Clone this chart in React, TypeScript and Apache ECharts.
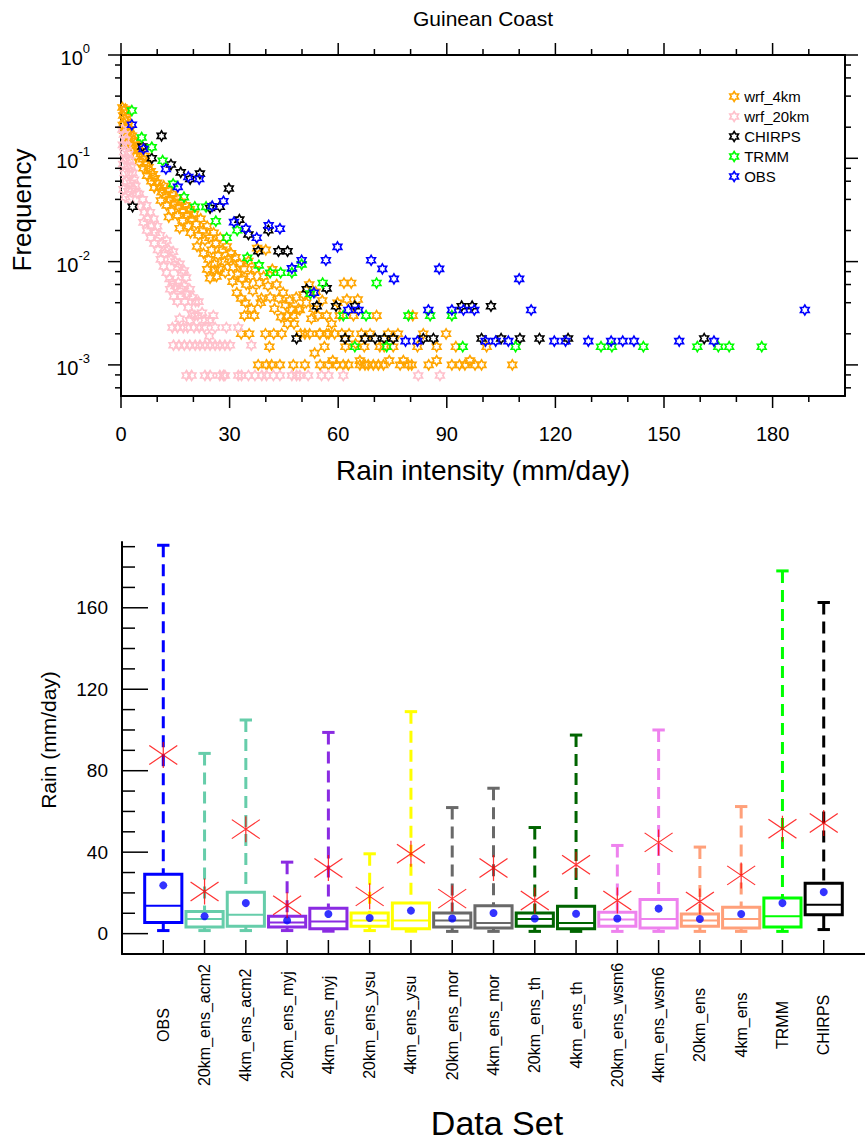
import React, { useEffect, useRef } from 'react';
import * as echarts from 'echarts';

const FONT = '"Liberation Sans", Arial, Helvetica, sans-serif';

// ---------------- Top panel: frequency of rain intensity ----------------
const seriesNames = ['wrf_4km', 'wrf_20km', 'CHIRPS', 'TRMM', 'OBS'];
const seriesColors = ['#FFA500', '#FFC0CB', '#000000', '#00FF00', '#0000FF'];

const wrf4km: number[][] = [
  [0.4,0.31],[0.8,0.29],[1.2,0.3],[0.6,0.26],[1.0,0.24],[1.6,0.25],[0.5,0.21],[1.3,0.2],[2.0,0.21],[0.9,0.185],
  [1.8,0.18],[2.5,0.19],[3.0,0.165],[2.2,0.155],[3.5,0.15],[1.5,0.14],[2.8,0.135],[4.0,0.14],[3.3,0.125],[4.5,0.12],
  [5.0,0.13],[4.2,0.105],[5.5,0.11],[6.0,0.098],[5.0,0.092],[6.6,0.105],[7.0,0.088],[6.2,0.08],[7.6,0.082],[8.2,0.075],
  [7.2,0.068],[8.8,0.07],[9.4,0.064],[8.4,0.06],[10.0,0.058],[9.2,0.052],
  [10.6,0.052],[11.2,0.047],[11.8,0.054],[12.4,0.044],[13.0,0.049],[13.6,0.04],[14.2,0.045],[14.8,0.037],[15.4,0.041],[16.0,0.034],
  [16.6,0.038],[17.2,0.031],[17.8,0.035],[18.4,0.028],[19.0,0.032],[19.6,0.026],[11.0,0.039],[12.6,0.035],[14.0,0.031],[15.6,0.028],
  [17.0,0.025],[18.6,0.022],[13.2,0.027],[16.2,0.021],[19.2,0.019],
  [20.2,0.029],[20.8,0.023],[21.4,0.018],[22.0,0.026],[22.6,0.02],[23.2,0.016],[23.8,0.022],[24.4,0.017],[25.0,0.013],[25.6,0.019],
  [26.2,0.015],[26.8,0.0115],[27.4,0.017],[28.0,0.013],[28.6,0.01],[29.2,0.014],[29.8,0.0105],[21.0,0.014],[22.8,0.012],[24.2,0.0105],
  [25.8,0.0095],[27.2,0.0085],[28.8,0.0078],[23.8,0.0084],[26.4,0.0072],[24.6,0.0069],[25.9,0.0083],
  [30.4,0.012],[31.0,0.0088],[31.6,0.011],[32.2,0.0075],[32.8,0.0095],[33.4,0.0068],[34.0,0.0085],[34.6,0.006],[35.2,0.0101],[35.8,0.0072],
  [36.4,0.0052],[37.0,0.0084],[37.6,0.0135],[38.2,0.0062],[38.8,0.0044],[39.4,0.0072],[40.0,0.013],[30.8,0.0064],[32.0,0.005],[33.2,0.0044],
  [34.4,0.004],[36.0,0.0035],[36.8,0.003],[38.6,0.004],[33.2,0.002],[35.4,0.002],[34.1,0.003],[39.9,0.002],[37.9,0.001],[40.2,0.001],
  [40.6,0.0058],[41.2,0.0045],[41.8,0.0084],[42.4,0.0035],[43.0,0.006],[43.6,0.0044],[44.2,0.0029],[44.8,0.005],[45.4,0.0038],[46.0,0.0025],
  [46.6,0.0042],[47.2,0.0034],[47.8,0.0025],[48.4,0.0045],[49.0,0.0035],[49.6,0.002],[42.2,0.002],[44.4,0.002],[45.8,0.003],[47.6,0.003],
  [41.6,0.001],[43.9,0.001],[47.6,0.001],[41.0,0.0015],[49.4,0.0034],
  [50.4,0.0048],[51.2,0.004],[52.0,0.006],[52.6,0.0028],[53.2,0.0035],[53.8,0.0051],[54.4,0.003],[55.0,0.002],[55.6,0.0042],[56.2,0.0015],
  [56.8,0.003],[57.4,0.002],[58.2,0.0025],[59.0,0.002],[59.8,0.004],[50.8,0.002],[52.1,0.002],[54.8,0.002],[56.8,0.002],[50.8,0.001],
  [55.0,0.001],[57.3,0.001],[59.6,0.001],[53.5,0.0013],[58.5,0.0011],
  [60.4,0.003],[61.0,0.002],[61.6,0.0062],[62.4,0.0043],[63.0,0.002],[63.6,0.0062],[64.2,0.003],[64.8,0.0016],[65.4,0.0043],[66.4,0.002],
  [67.2,0.0015],[68.8,0.002],[70.6,0.003],[61.4,0.001],[62.8,0.001],[66.0,0.001],[68.3,0.001],[69.7,0.001],[66.0,0.0011],[62.0,0.0015],
  [67.4,0.001],
  [71.1,0.001],[72.5,0.001],[73.8,0.002],[74.1,0.0011],[75.2,0.0015],[76.5,0.002],[77.1,0.001],[78.0,0.0011],[79.4,0.001],[80.3,0.001],
  [80.6,0.003],[81.9,0.0015],[83.5,0.002],[85.0,0.001],[87.2,0.0015],[87.2,0.0011],[89.8,0.002],[91.4,0.001],[92.5,0.0015],[93.5,0.001],
  [95.0,0.001],[96.4,0.0011],[97.8,0.001],[99.6,0.001],[101.0,0.0015],[108.1,0.001],[71.5,0.0015],[72.7,0.0015],
];

const wrf20km: number[][] = [
  [0.4,0.19],[0.8,0.17],[1.2,0.15],[0.5,0.135],[1.6,0.13],[0.9,0.115],[2.0,0.11],[1.3,0.1],[2.4,0.095],[0.6,0.088],
  [1.8,0.085],[2.8,0.082],[1.0,0.072],[2.2,0.07],[3.2,0.072],[1.5,0.06],[2.6,0.058],[3.6,0.062],[0.7,0.05],[2.0,0.048],
  [3.0,0.05],[4.0,0.054],[1.2,0.042],[4.4,0.046],[2.4,0.04],
  [5.0,0.045],[5.5,0.034],[6.0,0.04],[6.5,0.03],[7.0,0.035],[7.5,0.026],[8.0,0.03],[8.5,0.022],[9.0,0.026],[9.5,0.019],
  [10.0,0.022],[6.2,0.024],[7.2,0.02],[8.2,0.017],[9.2,0.015],[10.2,0.013],[10.8,0.018],[11.4,0.015],[12.0,0.012],[12.6,0.016],
  [13.2,0.013],[13.8,0.0105],[14.4,0.0125],[15.0,0.01],[15.6,0.0088],[16.2,0.0095],[16.8,0.0078],[17.4,0.0082],[18.0,0.007],[11.0,0.0105],
  [11.8,0.009],[12.6,0.0078],[13.4,0.0068],[14.2,0.0063],[15.0,0.0058],[15.8,0.0063],[16.6,0.0054],[17.4,0.0058],[18.2,0.0049],[19.0,0.0054],
  [19.8,0.0045],[20.6,0.0041],[21.4,0.0041],[13.6,0.0054],[14.6,0.0046],[15.6,0.0041],[16.6,0.0046],[17.6,0.0041],[18.6,0.0036],[19.6,0.0031],
  [20.4,0.003],[21.2,0.003],[22.4,0.0032],[23.2,0.0027],[24.4,0.0027],[25.5,0.003],[14.2,0.0023],[15.6,0.0023],[16.2,0.0028],[17.2,0.0023],
  [18.4,0.0023],[19.0,0.0027],[20.2,0.0023],[21.6,0.0023],[23.0,0.0023],[24.4,0.0019],[26.0,0.0023],[29.1,0.0023],[32.4,0.0023],
  [14.5,0.00155],[16.0,0.00155],[17.5,0.00155],[19.0,0.00155],[20.5,0.00155],[21.8,0.00155],[23.2,0.00155],[24.6,0.00155],[26.0,0.00155],[27.3,0.00155],
  [28.7,0.00155],[30.1,0.00155],[36.0,0.00155],
  [18.1,0.00079],[19.5,0.00079],[23.2,0.00079],[24.6,0.00079],[27.3,0.00079],[28.3,0.00079],[28.7,0.00079],[32.4,0.00079],[33.3,0.00079],[35.2,0.00079],
  [37.0,0.00079],[38.9,0.00079],[40.2,0.00079],[42.1,0.00079],[43.9,0.00079],[47.2,0.00079],[48.5,0.00079],[49.4,0.00079],[51.7,0.00079],[55.4,0.00079],
  [57.3,0.00079],[61.4,0.00079],[82.1,0.00079],[88.1,0.00079],
];

const chirps: number[][] = [
  [3.2,0.034],[5.9,0.13],[8.5,0.1],[11.2,0.165],[13.8,0.087],[16.5,0.073],[19.1,0.063],[21.8,0.071],[24.6,0.033],[27.3,0.034],
  [29.8,0.051],[32.7,0.0255],[35.2,0.0183],[37.9,0.0126],[40.7,0.0201],[43.5,0.0126],[46.0,0.0126],[48.5,0.0018],[51.3,0.0054],[54.1,0.0037],
  [56.8,0.0055],[59.4,0.0037],[61.9,0.0018],[64.6,0.0037],[67.4,0.0018],[70.2,0.0018],[72.7,0.0018],[75.2,0.0018],[83.5,0.0018],[86.3,0.0018],
  [94.1,0.0037],[97.0,0.0037],[99.6,0.0018],[102.2,0.0037],[105.0,0.0018],[110.2,0.0018],[115.6,0.0018],[123.5,0.0018],[161.1,0.0018],
];

const trmm: number[][] = [
  [3.0,0.29],[5.7,0.159],[8.5,0.128],[11.5,0.0948],[14.4,0.0565],[17.4,0.042],[20.4,0.0339],[23.5,0.0339],[26.2,0.0246],[29.2,0.017],
  [32.1,0.0201],[34.9,0.0109],[38.1,0.0092],[41.2,0.0078],[44.1,0.0078],[47.2,0.0078],[49.9,0.0094],[52.3,0.0049],[55.7,0.0062],[61.4,0.003],
  [64.6,0.0015],[67.7,0.003],[70.6,0.0062],[73.4,0.0015],[79.4,0.003],[85.4,0.003],[91.4,0.003],[94.4,0.0015],[109.0,0.0015],[132.6,0.0015],
  [135.6,0.0015],[144.3,0.0015],[159.2,0.0015],[165.0,0.0015],[168.0,0.0015],[177.0,0.0015],
];

const obs: number[][] = [
  [3.0,0.211],[6.2,0.123],[12.4,0.0788],[15.7,0.0529],[18.6,0.066],[21.6,0.063],[25.2,0.0344],[28.3,0.0384],[31.2,0.0241],[34.5,0.0208],
  [37.5,0.017],[40.8,0.0224],[43.9,0.0208],[47.2,0.0086],[49.9,0.0103],[53.3,0.005],[56.6,0.0103],[59.8,0.0139],[62.8,0.0034],[65.6,0.0034],
  [69.1,0.0103],[72.2,0.0085],[75.4,0.0068],[78.6,0.0017],[81.9,0.0017],[84.9,0.0034],[87.9,0.0085],[91.4,0.0034],[94.6,0.0034],[97.6,0.0034],
  [100.7,0.0017],[103.5,0.0017],[107.0,0.0017],[110.0,0.0068],[113.3,0.0034],[119.7,0.0017],[122.8,0.0017],[129.1,0.0017],[135.4,0.0017],[138.6,0.0017],
  [141.7,0.0017],[154.2,0.0017],[163.8,0.0017],[188.9,0.0034],
];

const freqXMajor = [0, 30, 60, 90, 120, 150, 180];
const freqXMinor = [10, 20, 40, 50, 70, 80, 100, 110, 130, 140, 160, 170, 190];
const freqYMajor = [0.001, 0.01, 0.1, 1];
const freqYMinor = [0.0006, 0.0008, 0.002, 0.004, 0.006, 0.008, 0.02, 0.04, 0.06, 0.08, 0.2, 0.4, 0.6, 0.8];

// ---------------- Bottom panel: box plots ----------------
const categories = [
  'OBS', '20km_ens_acm2', '4km_ens_acm2', '20km_ens_myj', '4km_ens_myj', '20km_ens_ysu', '4km_ens_ysu',
  '20km_ens_mor', '4km_ens_mor', '20km_ens_th', '4km_ens_th', '20km_ens_wsm6', '4km_ens_wsm6',
  '20km_ens', '4km_ens', 'TRMM', 'CHIRPS',
];
const boxColors = [
  '#0000FF', '#66CDAA', '#66CDAA', '#8A2BE2', '#8A2BE2', '#FFFF00', '#FFFF00',
  '#696969', '#696969', '#006400', '#006400', '#EE82EE', '#EE82EE',
  '#FFA07A', '#FFA07A', '#00FF00', '#000000',
];
const boxMin = [1.5, 1.5, 1.5, 1.5, 1.2, 1.5, 1.2, 1.1, 1.1, 1.1, 1.1, 1.1, 1.1, 1.1, 1.1, 1.1, 2.0];
const boxQ1 = [5.5, 3.3, 3.6, 3.3, 2.4, 3.6, 2.4, 3.3, 2.8, 3.6, 2.4, 3.6, 2.8, 3.6, 2.8, 3.3, 9.3];
const boxMedian = [13.7, 7.2, 9.3, 5.5, 6.0, 6.4, 6.5, 6.5, 5.2, 7.2, 5.2, 6.9, 7.2, 6.5, 7.2, 8.5, 14.2];
const boxQ3 = [29.2, 10.9, 20.3, 8.5, 12.5, 10.1, 15.0, 10.1, 13.7, 10.1, 13.4, 10.5, 16.7, 9.6, 12.9, 17.5, 24.8];
const boxMax = [190.7, 88.5, 104.9, 35.1, 98.8, 39.2, 109.0, 61.9, 71.4, 52.1, 97.5, 43.3, 100.0, 42.5, 62.4, 178.1, 162.6];
const boxMean = [23.7, 8.5, 15.0, 6.5, 9.6, 7.7, 11.3, 7.4, 10.1, 7.4, 9.8, 7.4, 12.3, 7.2, 9.6, 15.0, 20.4];
const boxStar = [87.7, 20.7, 51.3, 13.9, 32.2, 18.3, 39.2, 17.2, 32.2, 16.3, 33.8, 16.3, 44.8, 15.8, 28.6, 51.5, 54.3];

const rainYMajor = [0, 40, 80, 120, 160];
const rainYMinor = [10, 20, 30, 50, 60, 70, 90, 100, 110, 130, 140, 150, 170, 180, 190];

const HEX =
  'path://M10,0L12.89,5L18.66,5L15.77,10L18.66,15L12.89,15L10,20L7.11,15L1.34,15L4.23,10L1.34,5L7.11,5Z';
const STAR = 'path://M0,3.5L28,22.5M0,22.5L28,3.5M14,0L14,26';

// generic tick renderer: value layout [refX, refY, kind, value, len]
// kind 0: bottom, 1: top, 2: left, 3: right ; len > 0 outward, len < 0 inward
const renderTick = (params: any, api: any) => {
  const cs = params.coordSys;
  const refX = api.value(0);
  const refY = api.value(1);
  const kind = api.value(2);
  const v = api.value(3);
  const len = api.value(4);
  let shape: any;
  if (kind === 0 || kind === 1) {
    const x = api.coord([v, refY])[0];
    const y0 = kind === 0 ? cs.y + cs.height : cs.y;
    const y1 = kind === 0 ? y0 + len : y0 - len;
    shape = { x1: x, y1: y0, x2: x, y2: y1 };
  } else {
    const y = api.coord([refX, v])[1];
    const x0 = kind === 2 ? cs.x : cs.x + cs.width;
    const x1 = kind === 2 ? x0 - len : x0 + len;
    shape = { x1: x0, y1: y, x2: x1, y2: y };
  }
  return { type: 'line', shape, style: { stroke: '#000', lineWidth: 1.5 } };
};

const renderBox = (params: any, api: any) => {
  const x = api.value(0);
  const idx = api.value(6);
  const color = boxColors[idx];
  const pMin = api.coord([x, api.value(1)]);
  const pQ1 = api.coord([x, api.value(2)]);
  const pMed = api.coord([x, api.value(3)]);
  const pQ3 = api.coord([x, api.value(4)]);
  const pMax = api.coord([x, api.value(5)]);
  const half = api.size([0.9, 0])[0] / 2;
  const cap = api.size([0.3, 0])[0] / 2;
  const cx = pQ1[0];
  const lw = 3;
  return {
    type: 'group',
    children: [
      { type: 'line', shape: { x1: cx, y1: pMax[1], x2: cx, y2: pQ3[1] }, style: { stroke: color, lineWidth: lw, lineDash: [12, 7] } },
      { type: 'line', shape: { x1: cx - cap, y1: pMax[1], x2: cx + cap, y2: pMax[1] }, style: { stroke: color, lineWidth: lw } },
      { type: 'line', shape: { x1: cx, y1: pQ1[1], x2: cx, y2: pMin[1] }, style: { stroke: color, lineWidth: lw } },
      { type: 'line', shape: { x1: cx - cap, y1: pMin[1], x2: cx + cap, y2: pMin[1] }, style: { stroke: color, lineWidth: lw } },
      { type: 'rect', shape: { x: cx - half, y: pQ3[1], width: half * 2, height: pQ1[1] - pQ3[1] }, style: { fill: 'none', stroke: color, lineWidth: lw } },
      { type: 'line', shape: { x1: cx - half, y1: pMed[1], x2: cx + half, y2: pMed[1] }, style: { stroke: color, lineWidth: 2 } },
    ],
  };
};

const axisLine = { onZero: false, lineStyle: { color: '#000', width: 2 } };

function buildOption() {
  const topTicks: number[][] = [];
  freqXMajor.forEach((v) => { topTicks.push([100, 0.01, 0, v, 12]); topTicks.push([100, 0.01, 1, v, 12]); });
  freqXMinor.forEach((v) => { topTicks.push([100, 0.01, 0, v, 6]); topTicks.push([100, 0.01, 1, v, 6]); });
  freqYMajor.forEach((v) => { topTicks.push([100, 0.01, 2, v, 13]); topTicks.push([100, 0.01, 3, v, 13]); });
  freqYMinor.forEach((v) => { topTicks.push([100, 0.01, 2, v, 6]); topTicks.push([100, 0.01, 3, v, 6]); });

  const bottomTicks: number[][] = [];
  categories.forEach((_, i) => bottomTicks.push([9, 50, 0, i + 1, -14]));
  rainYMajor.forEach((v) => bottomTicks.push([9, 50, 2, v, -26]));
  rainYMinor.forEach((v) => bottomTicks.push([9, 50, 2, v, -13]));

  const topData = [wrf4km, wrf20km, chirps, trmm, obs];

  const scatterSeries = seriesNames.map((name, i) => ({
    name,
    type: 'scatter',
    xAxisIndex: 0,
    yAxisIndex: 0,
    symbol: HEX,
    symbolSize: 10,
    symbolKeepAspect: true,
    itemStyle: { color: 'rgba(0,0,0,0)', borderColor: seriesColors[i], borderWidth: 1.6, opacity: 1 },
    emphasis: { disabled: true },
    data: topData[i],
    z: 3,
  }));

  return {
    animation: false,
    textStyle: { fontFamily: FONT, color: '#000' },
    grid: [
      { left: 121, top: 55, width: 724, height: 341 },
      { left: 122, top: 542, width: 750, height: 412 },
    ],
    legend: {
      data: seriesNames,
      orient: 'vertical',
      left: 724,
      top: 84,
      itemWidth: 10,
      itemHeight: 10,
      itemGap: 5,
      selectedMode: false,
      itemStyle: { borderWidth: 1.6 },
      textStyle: { fontSize: 15, fontFamily: FONT, color: '#000' },
    },
    xAxis: [
      {
        gridIndex: 0, type: 'value', min: 0, max: 200, interval: 30, position: 'bottom',
        axisLine, axisTick: { show: false }, splitLine: { show: false },
        axisLabel: { fontSize: 20, color: '#000', margin: 28, fontFamily: FONT, formatter: (v: number) => (v > 190 ? '' : String(v)) },
      },
      {
        gridIndex: 0, type: 'value', min: 0, max: 200, interval: 30, position: 'top',
        axisLine, axisTick: { show: false }, splitLine: { show: false }, axisLabel: { show: false },
      },
      {
        gridIndex: 1, type: 'value', min: 0, max: 18, interval: 1, position: 'bottom',
        axisLine, axisTick: { show: false }, splitLine: { show: false },
        axisLabel: {
          rotate: 90, fontSize: 16, color: '#000', fontFamily: FONT, margin: 71, align: 'center', verticalAlign: 'middle',
          formatter: (v: number) => categories[Math.round(v) - 1] ?? '',
        },
      },
    ],
    yAxis: [
      {
        gridIndex: 0, type: 'log', logBase: 10, min: 0.0005, max: 1, position: 'left',
        axisLine, axisTick: { show: false }, splitLine: { show: false }, minorTick: { show: false },
        axisLabel: {
          margin: 31,
          formatter: (v: number) => {
            const l = Math.log10(v);
            const e = Math.round(l);
            if (Math.abs(l - e) > 1e-6) return '';
            return '{b|10}{s|' + e + '}';
          },
          rich: {
            b: { fontSize: 20, fontFamily: FONT, color: '#000', lineHeight: 26, verticalAlign: 'bottom' },
            s: { fontSize: 13, fontFamily: FONT, color: '#000', lineHeight: 14, verticalAlign: 'top' },
          },
        },
      },
      {
        gridIndex: 0, type: 'log', logBase: 10, min: 0.0005, max: 1, position: 'right',
        axisLine, axisTick: { show: false }, splitLine: { show: false }, axisLabel: { show: false },
      },
      {
        gridIndex: 1, type: 'value', min: -10, max: 192.3, interval: 10, position: 'left',
        axisLine, axisTick: { show: false }, splitLine: { show: false },
        axisLabel: {
          fontSize: 19, color: '#000', margin: 14, fontFamily: FONT,
          formatter: (v: number) => (v >= 0 && v <= 160 && Math.abs(v % 40) < 1e-6 ? String(Math.round(v)) : ''),
        },
      },
    ],
    graphic: [
      { type: 'text', x: 483, y: 18, style: { text: 'Guinean Coast', fontSize: 21, fontFamily: FONT, fill: '#000', align: 'center', verticalAlign: 'middle' } },
      { type: 'text', x: 22, y: 210, rotation: Math.PI / 2, style: { text: 'Frequency', fontSize: 26, fontFamily: FONT, fill: '#000', align: 'center', verticalAlign: 'middle' } },
      { type: 'text', x: 483, y: 470, style: { text: 'Rain intensity (mm/day)', fontSize: 28, fontFamily: FONT, fill: '#000', align: 'center', verticalAlign: 'middle' } },
      { type: 'text', x: 48, y: 740, rotation: Math.PI / 2, style: { text: 'Rain (mm/day)', fontSize: 21, fontFamily: FONT, fill: '#000', align: 'center', verticalAlign: 'middle' } },
      { type: 'text', x: 497, y: 1123, style: { text: 'Data Set', fontSize: 34, fontFamily: FONT, fill: '#000', align: 'center', verticalAlign: 'middle' } },
    ],
    series: [
      ...scatterSeries,
      {
        type: 'custom', name: 'topTicks', xAxisIndex: 0, yAxisIndex: 0, renderItem: renderTick,
        data: topTicks, clip: false, silent: true, z: 5,
      },
      {
        type: 'custom', name: 'boxes', xAxisIndex: 2, yAxisIndex: 2, renderItem: renderBox,
        data: categories.map((_, i) => [i + 1, boxMin[i], boxQ1[i], boxMedian[i], boxQ3[i], boxMax[i], i]),
        encode: { x: 0, y: [1, 2, 3, 4, 5] }, clip: false, silent: true, z: 2,
      },
      {
        type: 'scatter', name: 'mean', xAxisIndex: 2, yAxisIndex: 2, symbol: 'circle', symbolSize: 8,
        itemStyle: { color: '#0000FF' }, data: boxMean.map((v, i) => [i + 1, v]), z: 3, silent: true,
      },
      {
        type: 'scatter', name: 'star', xAxisIndex: 2, yAxisIndex: 2, symbol: STAR, symbolSize: [28, 26],
        itemStyle: { color: 'rgba(0,0,0,0)', borderColor: '#FF0000', borderWidth: 1.2 },
        data: boxStar.map((v, i) => [i + 1, v]), z: 4, silent: true,
      },
      {
        type: 'custom', name: 'bottomTicks', xAxisIndex: 2, yAxisIndex: 2, renderItem: renderTick,
        data: bottomTicks, clip: false, silent: true, z: 5,
      },
    ],
  };
}

export default function App() {
  const ref = useRef<HTMLDivElement>(null);
  useEffect(() => {
    if (!ref.current) return;
    const chart = echarts.init(ref.current, undefined, { renderer: 'svg' });
    chart.setOption(buildOption() as any);
    return () => chart.dispose();
  }, []);
  return (
    <div style={{ position: 'absolute', left: 0, top: 0, width: 865, height: 1143, overflow: 'hidden', background: '#fff' }}>
      <div ref={ref} style={{ width: 865, height: 1143 }} />
    </div>
  );
}
